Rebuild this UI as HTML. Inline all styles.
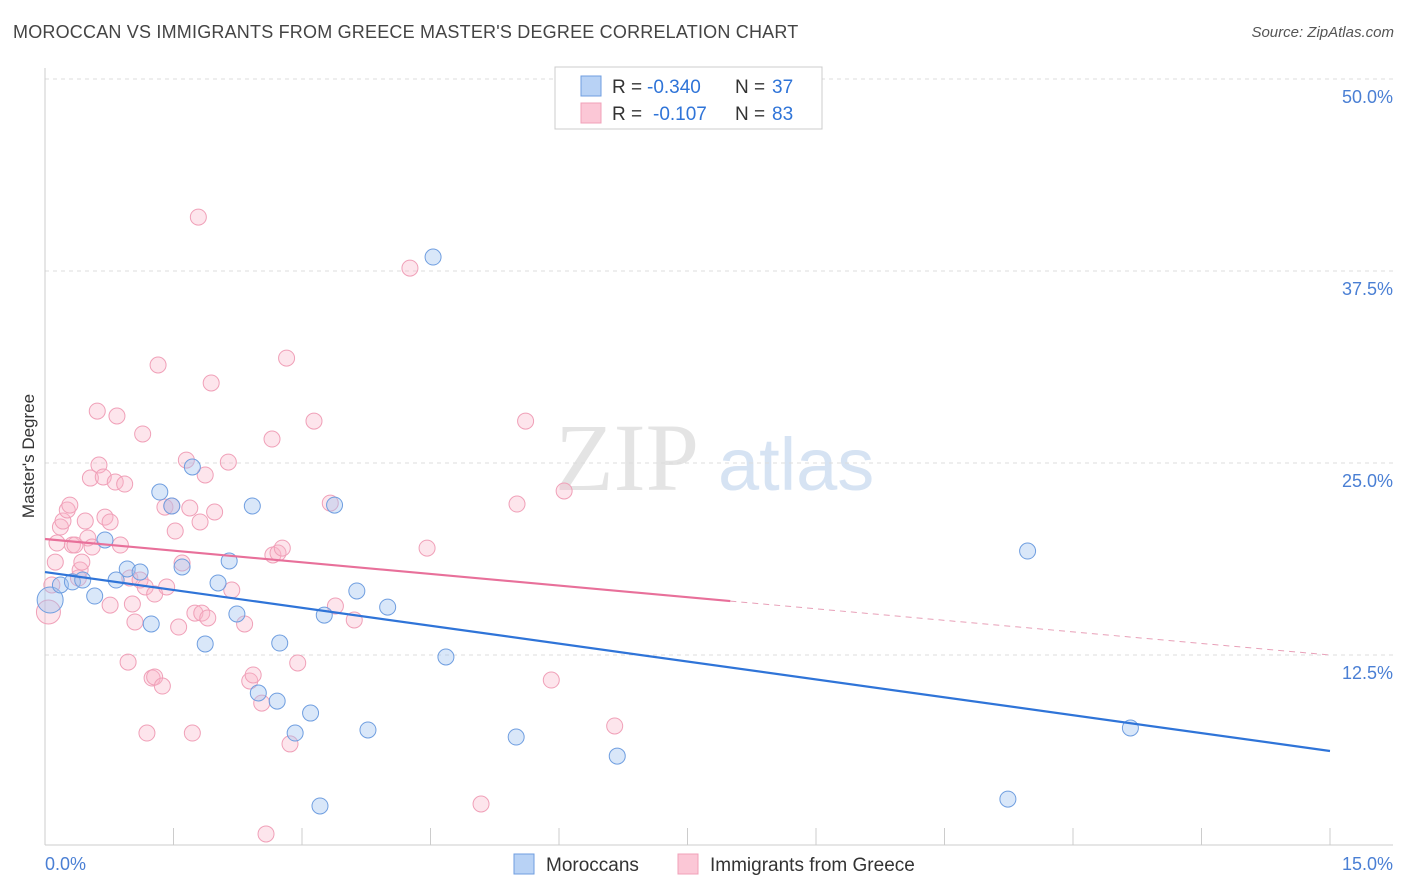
<!DOCTYPE html>
<html><head><meta charset="utf-8"><style>
body{margin:0;background:#fff;font-family:"Liberation Sans",sans-serif;}
#wrap{position:relative;width:1406px;height:892px;overflow:hidden;}
.t{position:absolute;white-space:nowrap;}
</style></head><body>
<div id="wrap">
<div class="t" style="left:13px;top:22px;font-size:18px;color:#444;letter-spacing:0.2px">MOROCCAN VS IMMIGRANTS FROM GREECE MASTER'S DEGREE CORRELATION CHART</div>
<div class="t" style="right:12px;top:24px;font-size:15px;color:#555;font-style:italic">Source: ZipAtlas.com</div>
<svg id="svg" width="1406" height="892" style="position:absolute;left:0;top:0"></svg>
</div>
<script>
const xTicks=[0,1.5,3,4.5,6,7.5,9,10.5,12,13.5,15];
const yTicks=[12.5,25,37.5,50];
const yTickLabels=["12.5%","25.0%","37.5%","50.0%"];
const blueX=[0.06,0.18,0.32,0.44,0.58,0.70,0.83,0.96,1.11,1.24,1.34,1.48,1.60,1.72,1.87,2.02,2.15,2.24,2.42,2.49,2.71,2.74,2.92,3.10,3.21,3.26,3.38,3.64,3.77,4.00,4.53,4.68,5.50,6.68,11.24,11.47,12.67];
const blueY=[16.08,17.06,17.26,17.38,16.34,19.99,17.38,18.10,17.90,14.52,23.11,22.20,18.23,24.74,13.22,17.19,18.62,15.17,22.20,10.03,9.50,13.28,7.42,8.72,2.67,15.10,22.26,16.67,7.62,15.62,38.41,12.37,7.16,5.92,3.12,19.27,7.75];
const pinkX=[0.04,0.08,0.12,0.14,0.18,0.21,0.26,0.29,0.32,0.35,0.39,0.41,0.43,0.47,0.50,0.53,0.55,0.61,0.63,0.68,0.70,0.76,0.76,0.82,0.84,0.88,0.93,0.97,0.99,1.02,1.05,1.11,1.14,1.17,1.19,1.25,1.28,1.28,1.32,1.37,1.40,1.42,1.48,1.52,1.56,1.60,1.65,1.69,1.72,1.75,1.79,1.81,1.83,1.87,1.90,1.94,1.98,2.14,2.18,2.33,2.39,2.43,2.53,2.58,2.65,2.66,2.72,2.77,2.82,2.86,2.95,3.14,3.33,3.39,3.61,4.26,4.46,5.09,5.51,5.61,5.91,6.06,6.65];
const pinkY=[15.30,17.06,18.55,19.79,20.83,21.22,21.94,22.26,19.66,19.66,17.51,18.03,18.55,21.22,20.12,24.02,19.53,28.38,24.87,24.09,21.48,21.16,15.75,23.76,28.06,19.66,23.63,12.04,17.51,15.82,14.65,17.38,26.89,16.93,7.42,11.00,16.47,11.07,31.38,10.48,22.13,16.93,22.20,20.57,14.32,18.49,25.19,22.07,7.42,15.23,41.01,21.16,15.23,24.22,14.91,30.21,21.81,25.06,16.73,14.52,10.81,11.20,9.37,0.85,26.56,19.01,19.14,19.46,31.83,6.71,11.98,27.73,22.39,15.69,14.78,37.69,19.46,2.80,22.33,27.73,10.87,23.18,7.88];
const blueLine=[0,17.90,15,6.25];
const pinkLine=[0,20.05,8.0,16.01,15,12.5];

const svg=document.getElementById('svg');
const NS='http://www.w3.org/2000/svg';
const X=v=>45+v/15*1285;
const Y=v=>847-v/12.5*192;
function mk(tag,attrs){const e=document.createElementNS(NS,tag);for(const k in attrs)e.setAttribute(k,attrs[k]);svg.appendChild(e);return e;}

// watermark
let w=mk('text',{x:555,y:490,'font-size':96,fill:'#e4e4e4','font-family':'Liberation Serif, serif'});w.textContent='ZIP';


w=mk('text',{x:718,y:490,'font-size':74,fill:'#d6e3f3','font-family':'Liberation Sans, sans-serif'});w.textContent='atlas';



yTicks.forEach((v,i)=>{
  const g=mk('line',{x1:45,x2:1393,y1:Y(v),y2:Y(v),stroke:'#dcdcdc','stroke-dasharray':'4,4'});
  
  
  const t=mk('text',{x:1393,y:Y(v)+24,'text-anchor':'end','font-size':18,fill:'#4a7fd4'});t.textContent=yTickLabels[i];
  
  
});
let a=mk('line',{x1:45,x2:45,y1:68,y2:845,stroke:'#ccc'});


a=mk('line',{x1:45,x2:1393,y1:845,y2:845,stroke:'#ccc'});


xTicks.forEach(v=>{const l=mk('line',{x1:X(v),x2:X(v),y1:828,y2:845,stroke:'#ccc'});
  
  });
let t=mk('text',{x:45,y:870,'font-size':18,fill:'#4a7fd4'});t.textContent='0.0%';


t=mk('text',{x:1393,y:870,'text-anchor':'end','font-size':18,fill:'#4a7fd4'});t.textContent='15.0%';


t=mk('text',{x:34,y:456,'text-anchor':'middle','font-size':17,fill:'#333',transform:'rotate(-90 34 456)'});t.textContent="Master's Degree";



pinkX.forEach((x,i)=>{const c=mk('circle',{cx:X(x),cy:Y(pinkY[i]),r:i==0?12:8,fill:'rgba(248,180,200,0.35)',stroke:'#f0a0b8','stroke-width':1});
  
  });
blueX.forEach((x,i)=>{const c=mk('circle',{cx:X(x),cy:Y(blueY[i]),r:i==0?13:8,fill:'rgba(160,195,240,0.4)',stroke:'#6f9ee0','stroke-width':1});
  
  });

let l=mk('line',{x1:X(blueLine[0]),y1:Y(blueLine[1]),x2:X(blueLine[2]),y2:Y(blueLine[3]),stroke:'#2f74d8','stroke-width':2.2});


l=mk('line',{x1:X(pinkLine[0]),y1:Y(pinkLine[1]),x2:X(pinkLine[2]),y2:Y(pinkLine[3]),stroke:'#e8709a','stroke-width':2.2});


l=mk('line',{x1:X(pinkLine[2]),y1:Y(pinkLine[3]),x2:X(pinkLine[4]),y2:Y(pinkLine[5]),stroke:'#e8a0b8','stroke-width':1,'stroke-dasharray':'6,5'});



// top legend
let r=mk('rect',{x:555,y:67,width:267,height:62,fill:'#fff',stroke:'#ccc'});


[[86,'#b8d2f5','#6f9ee0','-0.340','37'],[113,'#fbc7d6','#f0a0b8','-0.107','83']].forEach((d,i)=>{
  const s=mk('rect',{x:581,y:d[0]-10,width:20,height:20,fill:d[1],stroke:d[2]});
  
  
  let q=mk('text',{x:612,y:d[0]+7,'font-size':19,fill:'#333'});q.textContent='R = ';
  
  
  q=mk('text',{x:i?653:647,y:d[0]+7,'font-size':19,fill:'#2f74d8'});q.textContent=d[3];
  
  
  q=mk('text',{x:735,y:d[0]+7,'font-size':19,fill:'#333'});q.textContent='N = ';
  
  
  q=mk('text',{x:772,y:d[0]+7,'font-size':19,fill:'#2f74d8'});q.textContent=d[4];
  
  
});
// bottom legend
[[514,'#b8d2f5','#6f9ee0','Moroccans',546],[678,'#fbc7d6','#f0a0b8','Immigrants from Greece',710]].forEach(d=>{
  const s=mk('rect',{x:d[0],y:854,width:20,height:20,fill:d[1],stroke:d[2]});
  
  
  const q=mk('text',{x:d[4],y:871,'font-size':19,fill:'#333'});q.textContent=d[3];
  
  
});
</script>
</body></html>
